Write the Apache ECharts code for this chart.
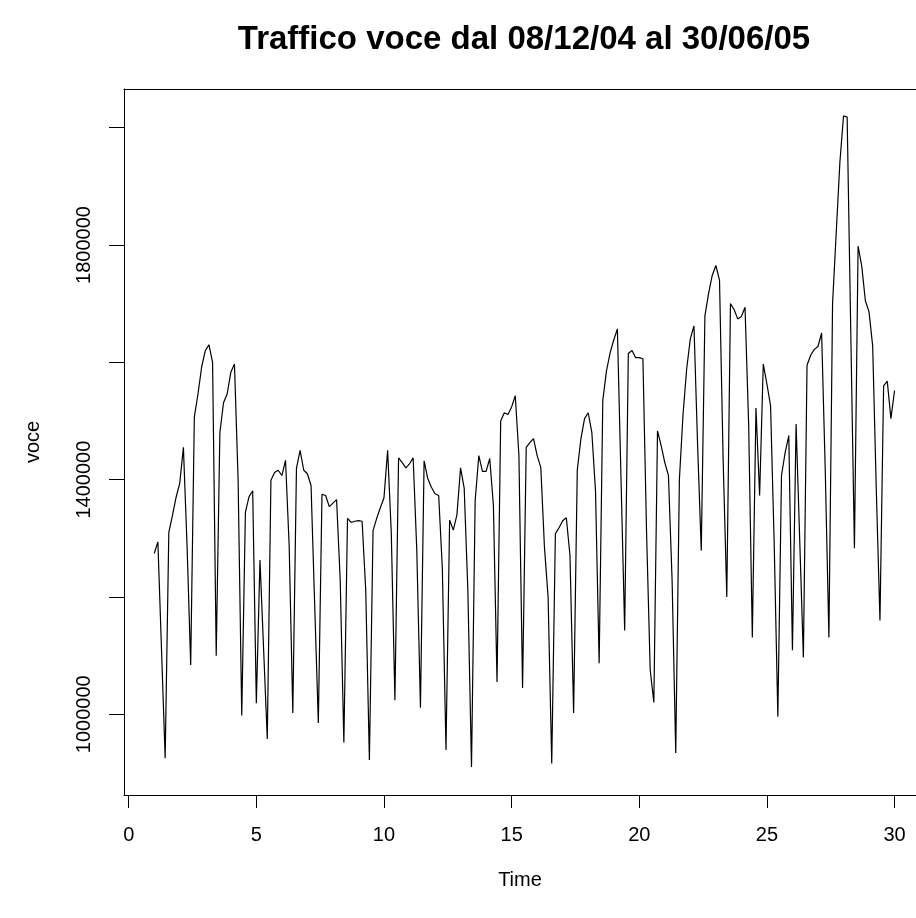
<!DOCTYPE html>
<html>
<head>
<meta charset="utf-8">
<script src="https://cdn.jsdelivr.net/npm/echarts@6/dist/echarts.min.js"></script>
<style>
  html, body { margin: 0; padding: 0; background: #ffffff; }
  #chart { width: 916px; height: 918px; }
</style>
</head>
<body>
<div id="chart"></div>
<script>
// Daily voice traffic, ts(start = 1, frequency = 7)
const titleText = "Traffico voce dal 08/12/04 al 30/06/05";
const xName = "Time";
const yName = "voce";
const tsStart = 1;
const tsFrequency = 7;
const voce = [
  1274000, 1294000, 1110000, 925000,
  1310000, 1339000, 1370000, 1394000, 1455000, 1288000, 1084000,
  1507000, 1546000, 1592000, 1620000, 1630000, 1600000, 1100000,
  1480000, 1531000, 1546000, 1583000, 1597000, 1400000, 998000,
  1344000, 1371000, 1381000, 1019000, 1263000, 1110000, 958000,
  1399000, 1412000, 1416000, 1407000, 1433000, 1288000, 1002000,
  1419000, 1450000, 1416000, 1410000, 1390000, 1186000, 985000,
  1375000, 1373000, 1354000, 1360000, 1366000, 1228000, 952000,
  1334000, 1327000, 1329000, 1330000, 1329000, 1211000, 922000,
  1313000, 1334000, 1352000, 1369000, 1450000, 1310000, 1024000,
  1437000, 1429000, 1420000, 1427000, 1437000, 1279000, 1011000,
  1432000, 1402000, 1387000, 1376000, 1373000, 1249000, 939000,
  1331000, 1314000, 1340000, 1420000, 1385000, 1211000, 910000,
  1364000, 1441000, 1414000, 1414000, 1436000, 1356000, 1055000,
  1500000, 1514000, 1511000, 1524000, 1543000, 1441000, 1045000,
  1455000, 1463000, 1470000, 1441000, 1421000, 1285000, 1200000,
  916000, 1308000, 1318000, 1330000, 1335000, 1271000, 1002000,
  1416000, 1470000, 1504000, 1514000, 1480000, 1381000, 1087000,
  1535000, 1585000, 1616000, 1638000, 1657000, 1400000, 1143000,
  1615000, 1620000, 1608000, 1608000, 1606000, 1310000, 1075000,
  1020000, 1483000, 1458000, 1429000, 1407000, 1229000, 934000,
  1400000, 1511000, 1589000, 1640000, 1662000, 1458000, 1279000,
  1679000, 1717000, 1748000, 1765000, 1740000, 1433000, 1200000,
  1700000, 1690000, 1674000, 1678000, 1694000, 1493000, 1131000,
  1522000, 1373000, 1597000, 1563000, 1526000, 1290000, 996000,
  1407000, 1446000, 1475000, 1109000, 1495000, 1296000, 1097000,
  1595000, 1612000, 1622000, 1627000, 1650000, 1415000, 1131000,
  1700000, 1820000, 1940000, 2020000, 2018000, 1650000, 1283000,
  1798000, 1764000, 1705000, 1686000, 1628000, 1381000, 1160000,
  1560000, 1568000, 1504000, 1552000
];
const xTicks = [0, 5, 10, 15, 20, 25, 30];
const yTicks = [1000000, 1200000, 1400000, 1600000, 1800000, 2000000];
const yLabels = [1000000, 1400000, 1800000];

const seriesData = voce.map((v, i) => [tsStart + i / tsFrequency, v]);

const FONT = '"Liberation Sans", Arial, Helvetica, sans-serif';
const X_MIN = -0.184, X_MAX = 30.84;
const chart = echarts.init(document.getElementById('chart'), null, { renderer: 'canvas' });
chart.setOption({
  animation: false,
  backgroundColor: '#ffffff',
  grid: {
    left: 124, top: 89, right: 0, height: 706,
    show: false, containLabel: false
  },
  graphic: [{
    type: 'text',
    x: 524, y: 40,
    style: {
      text: titleText,
      fill: '#000000',
      font: 'bold 33px ' + FONT,
      align: 'center', verticalAlign: 'middle',
      textAlign: 'center', textVerticalAlign: 'middle'
    }
  }],
  xAxis: [{
    type: 'value',
    position: 'bottom',
    min: X_MIN, max: X_MAX,
    name: xName,
    nameLocation: 'middle',
    nameGap: 75,
    nameTextStyle: { color: '#000000', fontSize: 20, fontFamily: FONT },
    axisLine: { show: true, onZero: false, lineStyle: { color: '#000000', width: 1 } },
    splitLine: { show: false },
    axisTick: { show: true, length: 13, inside: false, customValues: xTicks,
      lineStyle: { color: '#000000', width: 1 } },
    axisLabel: { show: true, customValues: xTicks, margin: 30, color: '#000000',
      fontSize: 20, fontFamily: FONT, showMinLabel: true, showMaxLabel: true }
  }, {
    type: 'value',
    position: 'top',
    min: X_MIN, max: X_MAX,
    axisLine: { show: true, onZero: false, lineStyle: { color: '#000000', width: 1 } },
    splitLine: { show: false },
    axisTick: { show: false },
    axisLabel: { show: false }
  }],
  yAxis: {
    type: 'value',
    min: 862400, max: 2065900,
    name: yName,
    nameLocation: 'middle',
    nameGap: 81,
    nameRotate: 90,
    nameTextStyle: { color: '#000000', fontSize: 20, fontFamily: FONT },
    axisLine: { show: true, onZero: false, lineStyle: { color: '#000000', width: 1 } },
    splitLine: { show: false },
    axisTick: { show: true, length: 15, inside: false, customValues: yTicks,
      lineStyle: { color: '#000000', width: 1 } },
    axisLabel: { show: true, customValues: yLabels, rotate: 90, margin: 30,
      color: '#000000', fontSize: 20, fontFamily: FONT,
      formatter: v => String(v) }
  },
  series: [{
    type: 'line',
    xAxisIndex: 0,
    data: seriesData,
    showSymbol: false,
    symbol: 'none',
    lineStyle: { color: '#000000', width: 1.2 },
    clip: true
  }]
});
</script>
</body>
</html>
